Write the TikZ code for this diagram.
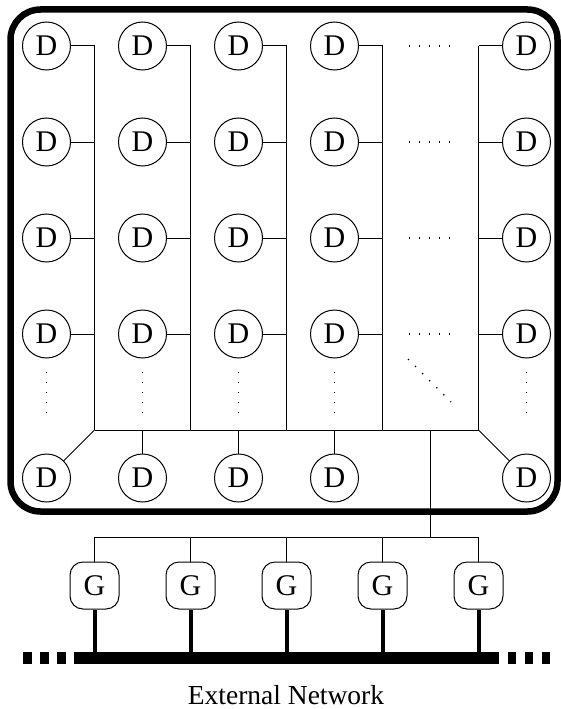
\documentclass[tikz,border=0pt]{standalone}
\usepackage{fontspec}
\setmainfont{Liberation Serif}
\begin{document}
\begin{tikzpicture}[x=1pt, y=-1pt,
    dev/.style={draw, circle, line width=1pt, minimum size=48pt, inner sep=0pt, font=\fontsize{30}{30}\selectfont},
    gw/.style={draw, rounded corners=13pt, line width=1pt, minimum width=49pt, minimum height=47pt, inner sep=0pt, font=\fontsize{30}{30}\selectfont},
    wire/.style={line width=1pt},
    stem/.style={line width=4pt},
    dotline/.style={line width=1.3pt, dash pattern=on 1.3pt off 8.7pt}]
    \useasboundingbox (0,0) rectangle (561,709);
    % cluster frame
    \draw[line width=6.5pt, rounded corners=30pt] (10.5,9.5) rectangle (557.5,511.5);
    % device columns
    \foreach \c in {0,...,3} {
        \coordinate (t\c) at ({94.5+96*\c}, 46);
        \coordinate (j\c) at ({94.5+96*\c}, 430);
        \draw[wire] (t\c) -- (j\c);
        \foreach \r in {0,...,3} {
            \node[dev] (d\c\r) at ({46.5+96*\c}, {46+96*\r}) {D};
            \draw[wire] (d\c\r.east) -- (d\c\r -| t\c);
        }
        \draw[dotline] ({46.5+96*\c}, 372) -- ({46.5+96*\c}, 413);
    }
    \coordinate (t5) at (478.5, 46);
    \coordinate (j5) at (478.5, 430);
    \draw[wire] (t5) -- (j5);
    \foreach \r in {0,...,3} {
        \node[dev] (d5\r) at (526.5, {46+96*\r}) {D};
        \draw[wire] (d5\r.west) -- (d5\r -| t5);
        \draw[dotline] (409, {46+96*\r}) -- (450, {46+96*\r});
    }
    \draw[dotline] (526.5, 372) -- (526.5, 413);
    \draw[dotline] (408, 359) -- (451, 402);
    % bottom row
    \draw[wire] (j0) -- (j5);
    \foreach \c in {0,...,3}
        \node[dev] (e\c) at ({46.5+96*\c}, 478) {D};
    \node[dev] (e5) at (526.5, 478) {D};
    \draw[wire] (j0) -- (e0);
    \foreach \c in {1,2,3}
        \draw[wire] (e\c.north) -- (e\c |- j0);
    \draw[wire] (j5) -- (e5);
    % gateways
    \coordinate (up) at (430.5, 430);
    \coordinate (down) at (430.5, 537);
    \coordinate (gl) at (94.5, 537);
    \coordinate (gr) at (478.5, 537);
    \draw[wire] (up) -- (down);
    \draw[wire] (gl) -- (gr);
    \coordinate (nl) at (82, 657.5);
    \coordinate (nr) at (490.5, 657.5);
    \foreach \k in {0,...,4} {
        \node[gw] (g\k) at ({94.5+96*\k}, 585.5) {G};
        \draw[wire] (g\k.north) -- (g\k.north |- gl);
        \draw[stem] (g\k.south) -- (g\k.south |- nl);
    }
    % external network
    \draw[line width=12pt] (nl) -- (nr);
    \coordinate (xl) at (23, 657.5);
    \coordinate (xr) at (550, 657.5);
    \draw[line width=12pt, dash pattern=on 9pt off 8pt] (xl) -- (nl);
    \draw[line width=12pt, dash pattern=on 8.5pt off 8.5pt] (nr) -- (xr);
    \node[anchor=base, inner sep=0pt, font=\fontsize{27.5}{27.5}\selectfont] (ext) at (286, 704) {External Network};
\end{tikzpicture}
\end{document}
